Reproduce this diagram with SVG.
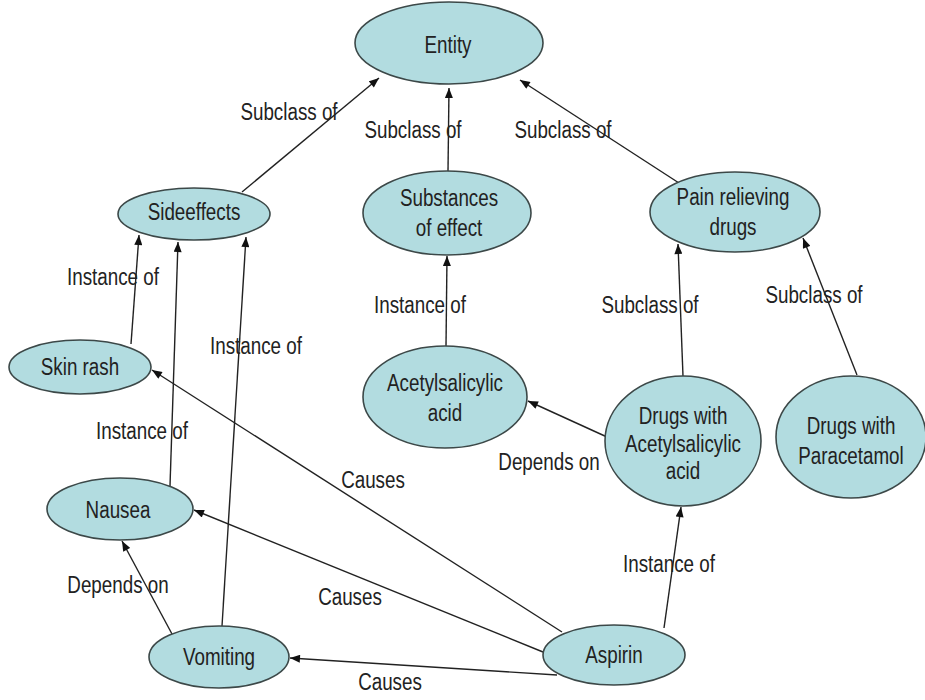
<svg xmlns="http://www.w3.org/2000/svg" width="925" height="700" viewBox="0 0 925 700">
  <style>
    .node ellipse { fill: #b2dce0; stroke: #3c4848; stroke-width: 1.6; }
    .lbl { font-family: "Liberation Sans", Arial, sans-serif; font-size: 23.5px; fill: #222; text-anchor: middle; }
    .edges line { stroke: #222; stroke-width: 1.4; marker-end: url(#head); }
  </style>
  <defs>
    <marker id="head" viewBox="0 0 10 8" refX="10" refY="4" markerWidth="11" markerHeight="8" markerUnits="userSpaceOnUse" orient="auto">
      <path d="M0,0 L10,4 L0,8 z" fill="#111"/>
    </marker>
  </defs>
  <rect width="925" height="700" fill="#ffffff"/>

  <!-- connectors (arrow points at the target node) -->
  <g id="edges" class="edges">
    <line x1="242" y1="192" x2="379" y2="78"/>
    <line x1="448" y1="171" x2="449" y2="88"/>
    <line x1="679" y1="183" x2="520" y2="80"/>
    <line x1="131" y1="344" x2="139" y2="235"/>
    <line x1="170" y1="486" x2="178" y2="242"/>
    <line x1="222" y1="626" x2="246" y2="237"/>
    <line x1="446" y1="346" x2="447" y2="256"/>
    <line x1="683" y1="376" x2="678" y2="244"/>
    <line x1="857" y1="375" x2="803" y2="238"/>
    <line x1="607" y1="437" x2="528" y2="401"/>
    <line x1="562" y1="632" x2="152" y2="370"/>
    <line x1="543" y1="652" x2="194" y2="510"/>
    <line x1="557" y1="675" x2="290" y2="658"/>
    <line x1="664" y1="628" x2="681" y2="507"/>
    <line x1="172" y1="634" x2="122" y2="541"/>
  </g>

  <!-- connector labels -->
  <g id="edge-labels">
    <text class="lbl" transform="translate(289,112) scale(0.8,1)" y="8">Subclass of</text>
    <text class="lbl" transform="translate(413,130) scale(0.8,1)" y="8">Subclass of</text>
    <text class="lbl" transform="translate(563,130) scale(0.8,1)" y="8">Subclass of</text>
    <text class="lbl" transform="translate(113,277) scale(0.8,1)" y="8">Instance of</text>
    <text class="lbl" transform="translate(142,431) scale(0.8,1)" y="8">Instance of</text>
    <text class="lbl" transform="translate(256,346) scale(0.8,1)" y="8">Instance of</text>
    <text class="lbl" transform="translate(420,305) scale(0.8,1)" y="8">Instance of</text>
    <text class="lbl" transform="translate(669,564) scale(0.8,1)" y="8">Instance of</text>
    <text class="lbl" transform="translate(650,305) scale(0.8,1)" y="8">Subclass of</text>
    <text class="lbl" transform="translate(814,295) scale(0.8,1)" y="8">Subclass of</text>
    <text class="lbl" transform="translate(549,462) scale(0.8,1)" y="8">Depends on</text>
    <text class="lbl" transform="translate(118,585) scale(0.8,1)" y="8">Depends on</text>
    <text class="lbl" transform="translate(373,480) scale(0.8,1)" y="8">Causes</text>
    <text class="lbl" transform="translate(350,597) scale(0.8,1)" y="8">Causes</text>
    <text class="lbl" transform="translate(390,682) scale(0.8,1)" y="8">Causes</text>
  </g>

  <!-- nodes -->
  <g id="entity" class="node">
    <ellipse cx="449" cy="43" rx="94" ry="41"/>
    <text class="lbl" transform="translate(448,45) scale(0.8,1)" y="8">Entity</text>
  </g>
  <g id="sideeffects" class="node">
    <ellipse cx="194" cy="214" rx="76" ry="26"/>
    <text class="lbl" transform="translate(194,212) scale(0.8,1)" y="8">Sideeffects</text>
  </g>
  <g id="substances-of-effect" class="node">
    <ellipse cx="447" cy="213" rx="84" ry="42"/>
    <text class="lbl" transform="translate(449,213) scale(0.8,1)"><tspan x="0" y="-7">Substances</tspan><tspan x="0" y="23">of effect</tspan></text>
  </g>
  <g id="pain-relieving-drugs" class="node">
    <ellipse cx="735" cy="212" rx="85" ry="40"/>
    <text class="lbl" transform="translate(733,212) scale(0.8,1)"><tspan x="0" y="-7">Pain relieving</tspan><tspan x="0" y="23">drugs</tspan></text>
  </g>
  <g id="skin-rash" class="node">
    <ellipse cx="80" cy="367" rx="71" ry="27"/>
    <text class="lbl" transform="translate(80,367) scale(0.8,1)" y="8">Skin rash</text>
  </g>
  <g id="acetylsalicylic-acid" class="node">
    <ellipse cx="445" cy="397" rx="82" ry="51"/>
    <text class="lbl" transform="translate(445,397) scale(0.8,1)"><tspan x="0" y="-6">Acetylsalicylic</tspan><tspan x="0" y="24">acid</tspan></text>
  </g>
  <g id="drugs-with-acetylsalicylic-acid" class="node">
    <ellipse cx="683" cy="441" rx="78" ry="65"/>
    <text class="lbl" transform="translate(683,441) scale(0.8,1)"><tspan x="0" y="-17">Drugs with</tspan><tspan x="0" y="11">Acetylsalicylic</tspan><tspan x="0" y="38">acid</tspan></text>
  </g>
  <g id="drugs-with-paracetamol" class="node">
    <ellipse cx="851" cy="437" rx="75" ry="61"/>
    <text class="lbl" transform="translate(851,437) scale(0.8,1)"><tspan x="0" y="-3">Drugs with</tspan><tspan x="0" y="27">Paracetamol</tspan></text>
  </g>
  <g id="nausea" class="node">
    <ellipse cx="120" cy="509" rx="73" ry="31"/>
    <text class="lbl" transform="translate(118,510) scale(0.8,1)" y="8">Nausea</text>
  </g>
  <g id="vomiting" class="node">
    <ellipse cx="219" cy="657" rx="70" ry="31"/>
    <text class="lbl" transform="translate(219,657) scale(0.8,1)" y="8">Vomiting</text>
  </g>
  <g id="aspirin" class="node">
    <ellipse cx="614" cy="655" rx="71" ry="30"/>
    <text class="lbl" transform="translate(614,655) scale(0.8,1)" y="8">Aspirin</text>
  </g>
</svg>
